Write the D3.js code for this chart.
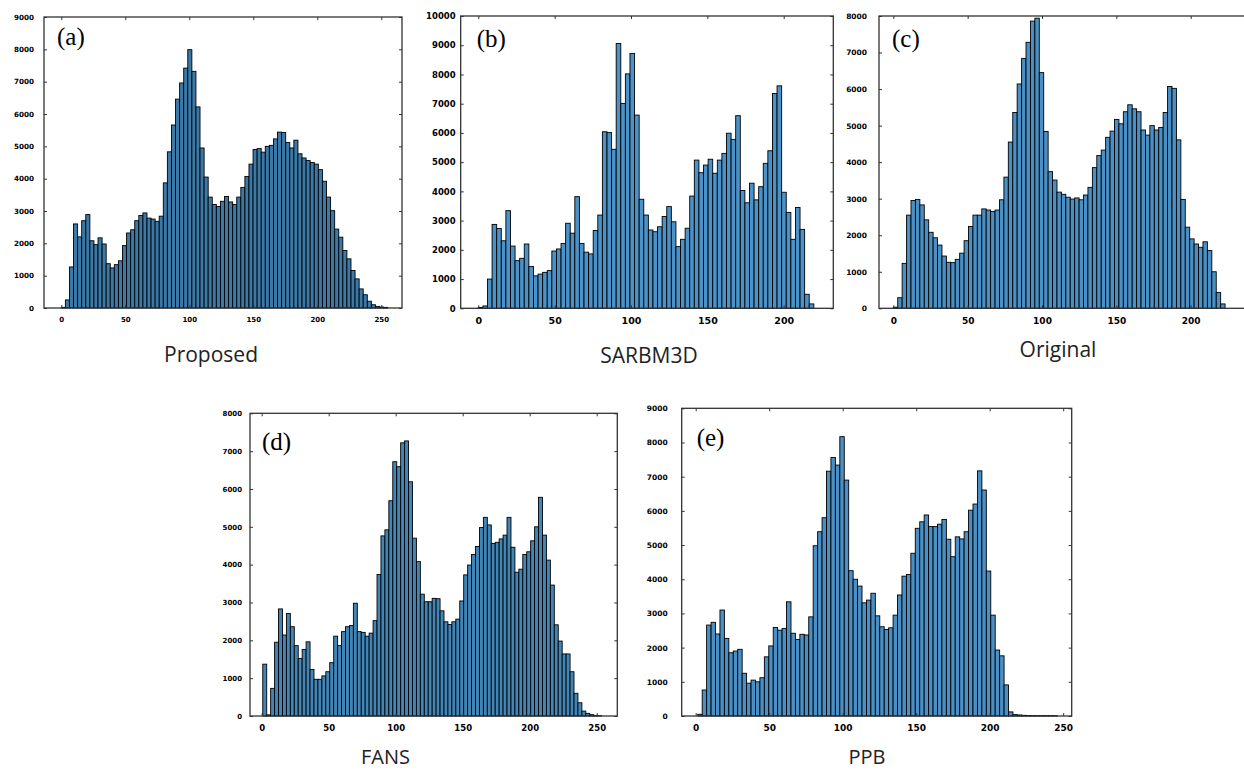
<!DOCTYPE html>
<html>
<head>
<meta charset="utf-8">
<script src="https://cdn.jsdelivr.net/npm/d3@7"></script>
<style>
  html, body { margin: 0; padding: 0; background: #fff; }
  svg { display: block; }
</style>
</head>
<body>
<svg id="chart" width="1244" height="770"></svg>
<script>
// ---------------- DATA ----------------
const panelLabels = ["(a)", "(b)", "(c)", "(d)", "(e)"];
const methodNames = ["Proposed", "SARBM3D", "Original", "FANS", "PPB"];
const binStart = [0, 0, 0, 0.8, 1.4];
const binWidth = [3.1875, 3.01, 2.975, 2.94, 3.02];
const yMax = [9000, 10000, 8000, 8000, 9000];
const xTicksA = [0, 50, 100, 150, 200, 250];
const xTicksB = [0, 50, 100, 150, 200];
const xTicksC = [0, 50, 100, 150, 200];
const xTicksD = [0, 50, 100, 150, 200, 250];
const xTicksE = [0, 50, 100, 150, 200, 250];

const proposedCounts = [20,250,1270,2600,2200,2700,2890,2080,1960,2170,
  1980,1370,1240,1340,1460,1930,2320,2420,2700,2860,
  2940,2780,2750,2680,2840,3870,4830,5660,6460,6960,
  7420,7990,7320,6220,4950,4050,3430,3200,3140,3300,
  3450,3280,3200,3430,3730,4070,4450,4900,4930,4820,
  5000,5030,5230,5440,5430,5120,4950,5190,4770,4640,
  4560,4500,4450,4280,3920,3430,3010,2440,2190,1780,
  1520,1160,900,590,410,210,100,50,30,20];

const sarbm3dCounts = [30,80,1000,2870,2730,2310,3340,2130,1630,1710,
  2200,1430,1110,1170,1230,1290,1960,2030,2220,2910,
  2570,3820,2220,1920,1860,2660,3190,6040,6010,5440,
  9060,7010,8020,8720,6610,3730,3190,2680,2620,2790,
  3140,3480,2960,2110,2360,2740,3840,5070,4640,4900,
  5100,4620,5070,5300,5990,5780,6590,4030,3610,4280,
  3710,4160,4960,5390,7350,7610,3970,3280,2360,3450,
  2700,480,150];

const originalCounts = [30,290,1230,2550,2950,2980,2830,2420,2080,1930,
  1730,1430,1260,1250,1340,1510,1850,2240,2550,2550,
  2720,2690,2650,2690,2970,3590,4550,5360,6140,6840,
  7280,7860,7940,6450,4840,3740,3510,3180,3120,3040,
  2990,3020,2970,3100,3310,3850,4180,4330,4680,4850,
  5170,5050,5380,5570,5460,5380,4880,4740,5000,4880,
  4950,5360,6070,6020,4610,2980,2220,1900,1760,1670,
  1820,1580,1000,430,120];

const fansCounts = [1370,30,730,1950,2830,2140,2710,2360,1860,1520,
  1760,1960,1230,970,970,1060,1170,1410,2110,1860,
  2230,2360,2390,2980,2230,2210,2110,2190,2520,3740,
  4760,4920,5690,6720,6590,7220,7270,6190,4700,4080,
  3220,3020,3020,3110,3100,2780,2490,2420,2490,2560,
  3040,3730,3990,4270,4480,4980,5250,5050,4560,4590,
  4680,4780,5250,4460,3800,3880,4270,4340,4630,5000,
  5780,4780,4120,3460,2410,1980,1640,1640,1170,600,
  350,130,70,35,15,8];

const ppbCounts = [50,760,2660,2740,2400,3100,2270,1850,1900,1950,
  1250,960,1050,1000,1120,1730,2050,2590,2510,2560,
  3340,2420,2240,2390,2370,2900,4980,5390,5800,7160,
  7560,7340,8170,6900,4250,4000,3800,3310,3390,3590,
  2930,2610,2530,2580,2950,3540,4090,4140,4760,5490,
  5680,5880,5540,5540,5610,5750,5170,4660,5240,5180,
  5390,6020,6200,7170,6610,4240,2950,1930,1760,910,
  120,40,30,20,15,12,10,10,10,10,10];

const seriesCounts = [proposedCounts, sarbm3dCounts, originalCounts, fansCounts, ppbCounts];
const xTickSets = [xTicksA, xTicksB, xTicksC, xTicksD, xTicksE];

// ---------------- LAYOUT (pixels) ----------------
const layout = [
  { left: 44,    right: 402,   top: 17,    bottom: 308,   x0px: 61.3,  pxPerUnit: 1.28,  yPad: 10, yFont: 7.2, xFont: 7,   fill: "#3b7aa8",
    lab: { dx: 13, y: 45 },  name: { x: 211,   y: 362, fs: 21 } },
  { left: 460.7, right: 833.3, top: 16,    bottom: 308.3, x0px: 478.3, pxPerUnit: 1.527, yPad: 5,  yFont: 8.5, xFont: 9.5, fill: "#4a92c8",
    lab: { dx: 16, y: 47 },  name: { x: 649,   y: 363, fs: 21 } },
  { left: 879,   right: 1247,  top: 16,    bottom: 308.3, x0px: 893.3, pxPerUnit: 1.487, yPad: 12, yFont: 7.5, xFont: 9,   fill: "#4a90c5",
    lab: { dx: 13, y: 47 },  name: { x: 1058,  y: 357, fs: 21 } },
  { left: 250,   right: 617.3, top: 413.3, bottom: 716,   x0px: 261.7, pxPerUnit: 1.34,  yPad: 8,  yFont: 7,   xFont: 8.5, fill: "#4286b8",
    lab: { dx: 12, y: 450 }, name: { x: 385.5, y: 764, fs: 20 } },
  { left: 681.7, right: 1071.7,top: 408.3, bottom: 716,   x0px: 695.7, pxPerUnit: 1.47,  yPad: 14, yFont: 7.5, xFont: 9,   fill: "#4a90c6",
    lab: { dx: 15, y: 446 }, name: { x: 867,   y: 764, fs: 20 } }
];

const svg = d3.select("#chart");
svg.append("rect").attr("width", 1244).attr("height", 770).attr("fill", "#fff");

seriesCounts.forEach((counts, p) => {
  const L = layout[p];
  const xMin = (L.left - L.x0px) / L.pxPerUnit;
  const xMaxD = (L.right - L.x0px) / L.pxPerUnit;
  const x = d3.scaleLinear().domain([xMin, xMaxD]).range([L.left, L.right]);
  const y = d3.scaleLinear().domain([0, yMax[p]]).range([L.bottom, L.top]);
  const g = svg.append("g");

  // bars
  g.selectAll("rect.bar").data(counts).join("rect")
    .attr("class", "bar")
    .attr("x", (d, i) => x(binStart[p] + i * binWidth[p]))
    .attr("width", (d, i) => x(binStart[p] + (i + 1) * binWidth[p]) - x(binStart[p] + i * binWidth[p]))
    .attr("y", d => y(d))
    .attr("height", d => y(0) - y(d))
    .attr("fill", L.fill)
    .attr("stroke", "#000")
    .attr("stroke-width", 0.9);

  const yTicks = d3.range(0, yMax[p] + 1, 1000);
  const styleAxis = (sel, fs) => {
    sel.select(".domain").remove();
    sel.selectAll(".tick line").attr("stroke", "#333").attr("stroke-width", 1);
    sel.selectAll("text").attr("font-family", "DejaVu Sans").attr("font-weight", "bold")
      .attr("font-size", fs).attr("fill", "#000");
  };

  g.append("g").attr("transform", `translate(0,${L.bottom})`)
    .call(d3.axisBottom(x).tickValues(xTickSets[p]).tickSize(-3).tickPadding(9).tickFormat(d3.format("d")))
    .call(s => styleAxis(s, L.xFont));
  g.append("g").attr("transform", `translate(0,${L.top})`)
    .call(d3.axisTop(x).tickValues(xTickSets[p]).tickSize(-3).tickFormat(""))
    .call(s => styleAxis(s, L.xFont));
  g.append("g").attr("transform", `translate(${L.left},0)`)
    .call(d3.axisLeft(y).tickValues(yTicks).tickSize(-3).tickPadding(L.yPad).tickFormat(d3.format("d")))
    .call(s => styleAxis(s, L.yFont));
  g.append("g").attr("transform", `translate(${L.right},0)`)
    .call(d3.axisRight(y).tickValues(yTicks).tickSize(-3).tickFormat(""))
    .call(s => styleAxis(s, L.yFont));

  // frame
  g.append("rect")
    .attr("x", L.left).attr("y", L.top)
    .attr("width", L.right - L.left).attr("height", L.bottom - L.top)
    .attr("fill", "none").attr("stroke", "#333").attr("stroke-width", 1.3);

  // panel label
  g.append("text")
    .attr("x", L.left + L.lab.dx).attr("y", L.lab.y)
    .attr("font-family", "Liberation Serif").attr("font-size", 25)
    .attr("fill", "#000").text(panelLabels[p]);

  // method name
  svg.append("text")
    .attr("x", L.name.x).attr("y", L.name.y)
    .attr("text-anchor", "middle")
    .attr("font-family", "Open Sans").attr("font-size", L.name.fs)
    .attr("fill", "#222").text(methodNames[p]);
});
</script>
</body>
</html>
